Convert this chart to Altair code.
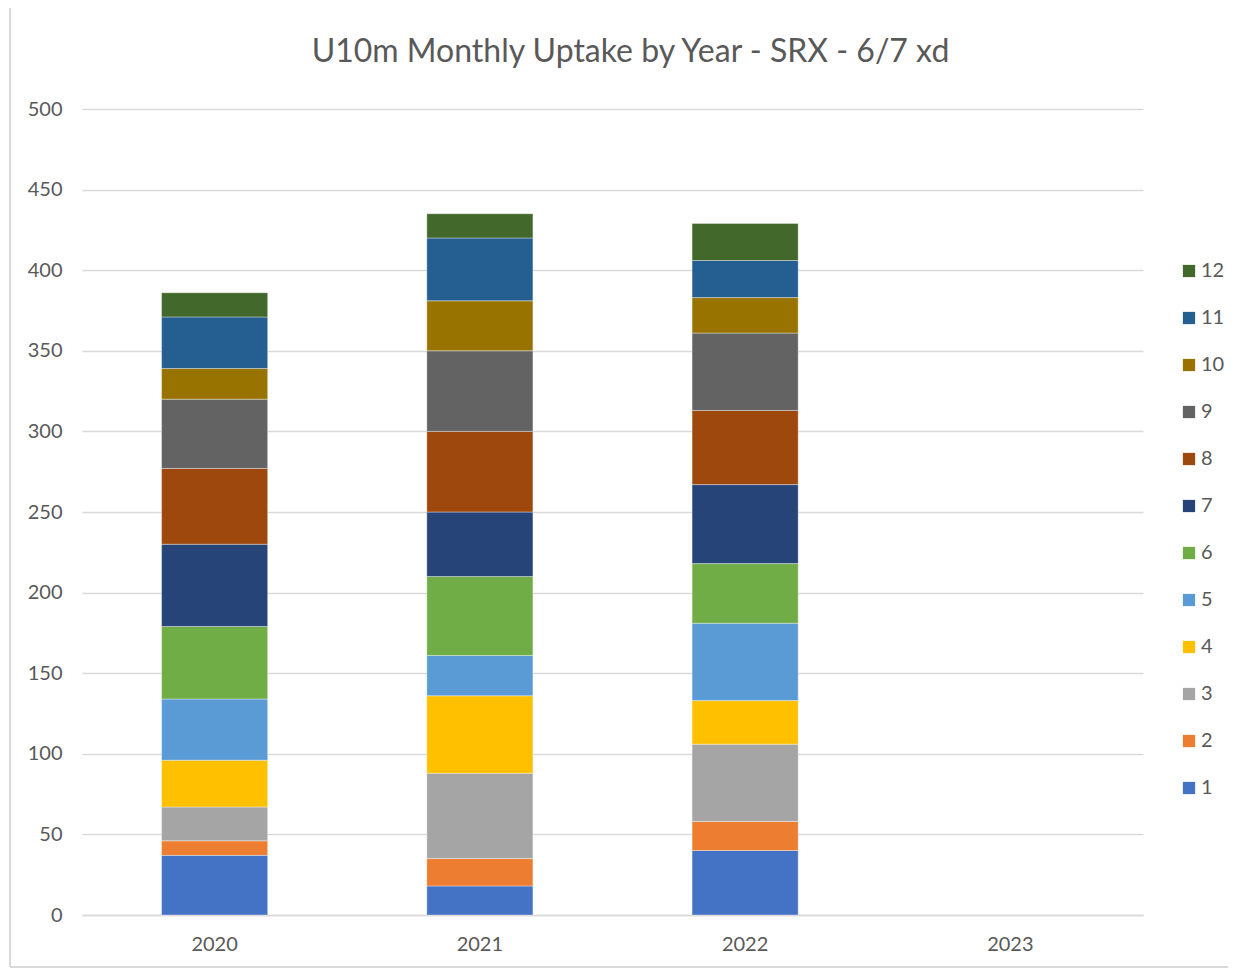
import altair as alt
import pandas as pd

years = ["2020", "2021", "2022", "2023"]
months = [str(m) for m in range(1, 13)]
v2020 = [37, 9, 21, 29, 38, 45, 51, 47, 43, 19, 32, 15]
v2021 = [18, 17, 53, 48, 25, 49, 40, 50, 50, 31, 39, 15]
v2022 = [40, 18, 48, 27, 48, 37, 49, 46, 48, 22, 23, 23]
v2023 = []
colors = ["#4472C4", "#ED7D31", "#A5A5A5", "#FFC000", "#5B9BD5", "#70AD47",
          "#264478", "#9E480E", "#636363", "#997300", "#255E91", "#43682B"]

rows = []
for y, vals in zip(years, [v2020, v2021, v2022, v2023]):
    for i, (m, v) in enumerate(zip(months, vals)):
        rows.append({"year": y, "month": m, "m": i + 1, "value": v})
df = pd.DataFrame(rows)

FONT = "Lato"
GRAY = "#595959"

bars = alt.Chart(df).mark_bar(stroke="white", strokeWidth=0.6, strokeOpacity=0.6).encode(
    x=alt.X("year:N", title=None,
            scale=alt.Scale(domain=years, paddingInner=0.6, paddingOuter=0.3),
            axis=alt.Axis(labelAngle=0, labelFont=FONT, labelFontSize=20, labelColor=GRAY,
                          labelPadding=19, ticks=False, domainColor="#D9D9D9", domainWidth=1.5)),
    y=alt.Y("value:Q", title=None, stack="zero",
            scale=alt.Scale(domain=[0, 500], nice=False),
            axis=alt.Axis(values=list(range(0, 501, 50)), labelFont=FONT, labelFontSize=20,
                          labelColor=GRAY, labelPadding=20, ticks=False, domain=False,
                          gridColor="#D9D9D9", gridWidth=1.5)),
    color=alt.Color("month:N", title=None,
                    scale=alt.Scale(domain=months[::-1], range=colors[::-1]),
                    legend=alt.Legend(orient="none", legendX=1097, legendY=152,
                                      symbolType="square", symbolSize=150, symbolStrokeWidth=0,
                                      labelFont=FONT, labelFontSize=20, labelColor=GRAY,
                                      rowPadding=27, padding=0, labelOffset=2)),
    order=alt.Order("m:Q", sort="ascending"),
)

frame_left = alt.Chart(df).mark_rule(color="#D9D9D9", strokeWidth=2).encode(
    x=alt.value(-72), y=alt.value(-101), y2=alt.value(858))
frame_bottom = alt.Chart(df).mark_rule(color="#D9D9D9", strokeWidth=2).encode(
    x=alt.value(-72), x2=alt.value(1146), y=alt.value(858))

chart = alt.layer(bars, frame_left, frame_bottom).properties(
    width=1061, height=806,
    autosize=alt.AutoSizeParams(type="none"),
    padding={"left": 74, "top": 101, "right": 85, "bottom": 53},
    title=alt.TitleParams("U10m Monthly Uptake by Year - SRX - 6/7 xd", font=FONT,
                          fontSize=32, fontWeight="normal", color=GRAY, frame="group",
                          anchor="middle", offset=0, dy=62, dx=18),
).configure_view(stroke=None)

chart.save("out.html", embed_options={"renderer": "svg", "actions": False})
